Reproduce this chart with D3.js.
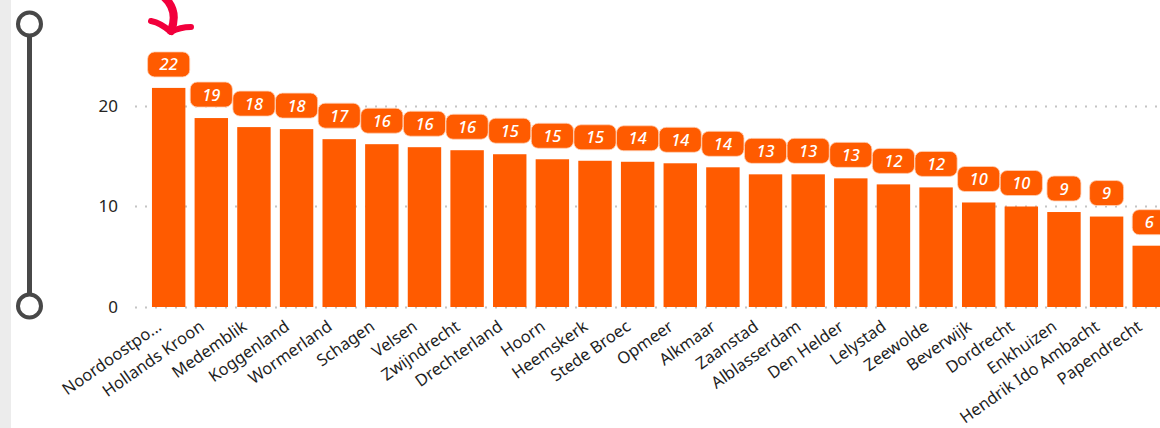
<!DOCTYPE html>
<html>
<head>
<meta charset="utf-8">
<script src="https://cdn.jsdelivr.net/npm/d3@7"></script>
<style>
  html, body { margin: 0; padding: 0; background: #fff; }
  svg { display: block; }
</style>
</head>
<body>
<div id="chart"></div>
<script>
// gemeenten, gesorteerd van hoog naar laag
const categories = [
  'Noordoostpo...', 'Hollands Kroon', 'Medemblik', 'Koggenland', 'Wormerland', 'Schagen',
  'Velsen', 'Zwijndrecht', 'Drechterland', 'Hoorn', 'Heemskerk', 'Stede Broec',
  'Opmeer', 'Alkmaar', 'Zaanstad', 'Alblasserdam', 'Den Helder', 'Lelystad',
  'Zeewolde', 'Beverwijk', 'Dordrecht', 'Enkhuizen', 'Hendrik Ido Ambacht', 'Papendrecht'
];
const values = [
  21.8, 18.8, 17.9, 17.7, 16.7, 16.2,
  15.9, 15.6, 15.2, 14.7, 14.55, 14.45,
  14.3, 13.9, 13.2, 13.2, 12.8, 12.2,
  11.9, 10.4, 10.0, 9.45, 9.0, 6.1
];
const yTicks = [0, 10, 20];

const width = 1160, height = 428;
const orange = '#ff5b00';
const font = "'Noto Sans', 'Open Sans', sans-serif";

const svg = d3.select('#chart').append('svg')
  .attr('width', width)
  .attr('height', height);

// grijze rand links
svg.append('rect').attr('x', 0).attr('y', 0).attr('width', 11).attr('height', height).attr('fill', '#ececec');

const x = d3.scaleBand()
  .domain(categories)
  .range([147.7, 1170.2])
  .paddingInner(0.216)
  .paddingOuter(0.1);

const y = d3.scaleLinear()
  .domain([0, 25])
  .range([307, 307 - 25 * 10.05]);

// stippel-rasterlijnen
svg.append('g').selectAll('line')
  .data(yTicks)
  .enter()
  .append('line')
  .attr('x1', 135)
  .attr('x2', width)
  .attr('y1', d => Math.round(y(d)) + 0.5)
  .attr('y2', d => Math.round(y(d)) + 0.5)
  .attr('stroke', '#c4c4c4')
  .attr('stroke-width', 2)
  .attr('stroke-dasharray', '2 8');

// y-as
const yAxis = svg.append('g')
  .attr('transform', 'translate(118,0)')
  .call(d3.axisLeft(y).tickValues(yTicks).tickSize(0).tickPadding(0));
yAxis.select('.domain').remove();
yAxis.selectAll('text')
  .attr('font-family', font)
  .attr('font-size', 17)
  .attr('fill', '#252423');

// staven
svg.append('g').selectAll('rect')
  .data(categories)
  .enter()
  .append('rect')
  .attr('x', d => x(d))
  .attr('y', (d, i) => y(values[i]))
  .attr('width', x.bandwidth())
  .attr('height', (d, i) => y(0) - y(values[i]))
  .attr('fill', orange);

// x-as
const xAxis = svg.append('g')
  .attr('transform', 'translate(0,' + y(0) + ')')
  .call(d3.axisBottom(x).tickSize(0).tickPadding(0));
xAxis.select('.domain').remove();
xAxis.selectAll('text')
  .attr('font-family', font)
  .attr('font-size', 16.5)
  .attr('fill', '#1f1f1f')
  .attr('text-anchor', 'end')
  .attr('dy', 0)
  .attr('y', 0)
  .attr('transform', 'translate(-6,22) rotate(-35)');

// gegevenslabels in afgeronde kaders
const labels = svg.append('g').selectAll('g')
  .data(categories)
  .enter()
  .append('g')
  .attr('transform', (d, i) => 'translate(' + (x(d) + x.bandwidth() / 2) + ',' + (y(values[i]) - 11) + ')');

const labelRects = labels.append('rect');
const labelTexts = labels.append('text')
  .attr('x', 0)
  .attr('y', -6.5)
  .attr('text-anchor', 'middle')
  .attr('font-family', font)
  .attr('font-style', 'italic')
  .attr('font-weight', 500)
  .attr('font-size', 16.5)
  .attr('fill', '#ffffff')
  .text((d, i) => Math.round(values[i]));

labelTexts.each(function() {
  const w = Math.max(this.getComputedTextLength() + 24, 34);
  d3.select(this.parentNode).select('rect')
    .attr('x', -w / 2)
    .attr('y', -25)
    .attr('width', w)
    .attr('height', 25)
    .attr('rx', 7)
    .attr('fill', orange)
    .attr('stroke', '#ffd2b8')
    .attr('stroke-width', 0.8);
});

// schuifregelaar links
const slider = svg.append('g').attr('stroke', '#484848').attr('fill', '#ffffff');
slider.append('line')
  .attr('x1', 29.5).attr('x2', 29.5)
  .attr('y1', 24).attr('y2', 306)
  .attr('stroke-width', 5);
slider.selectAll('circle')
  .data([24, 306])
  .enter()
  .append('circle')
  .attr('cx', 29.5)
  .attr('cy', d => d)
  .attr('r', 11.5)
  .attr('stroke-width', 4);

// rode pijl
const arrow = svg.append('g')
  .attr('fill', 'none')
  .attr('stroke', '#f2003c')
  .attr('stroke-linecap', 'round')
  .attr('stroke-linejoin', 'round');
arrow.append('path')
  .attr('d', 'M164,-3 C174,6 176,18 171,31')
  .attr('stroke-width', 8);
arrow.append('path')
  .attr('d', 'M151,21 Q161,23 171,32 Q180,27 191,27')
  .attr('stroke-width', 6);
</script>
</body>
</html>
